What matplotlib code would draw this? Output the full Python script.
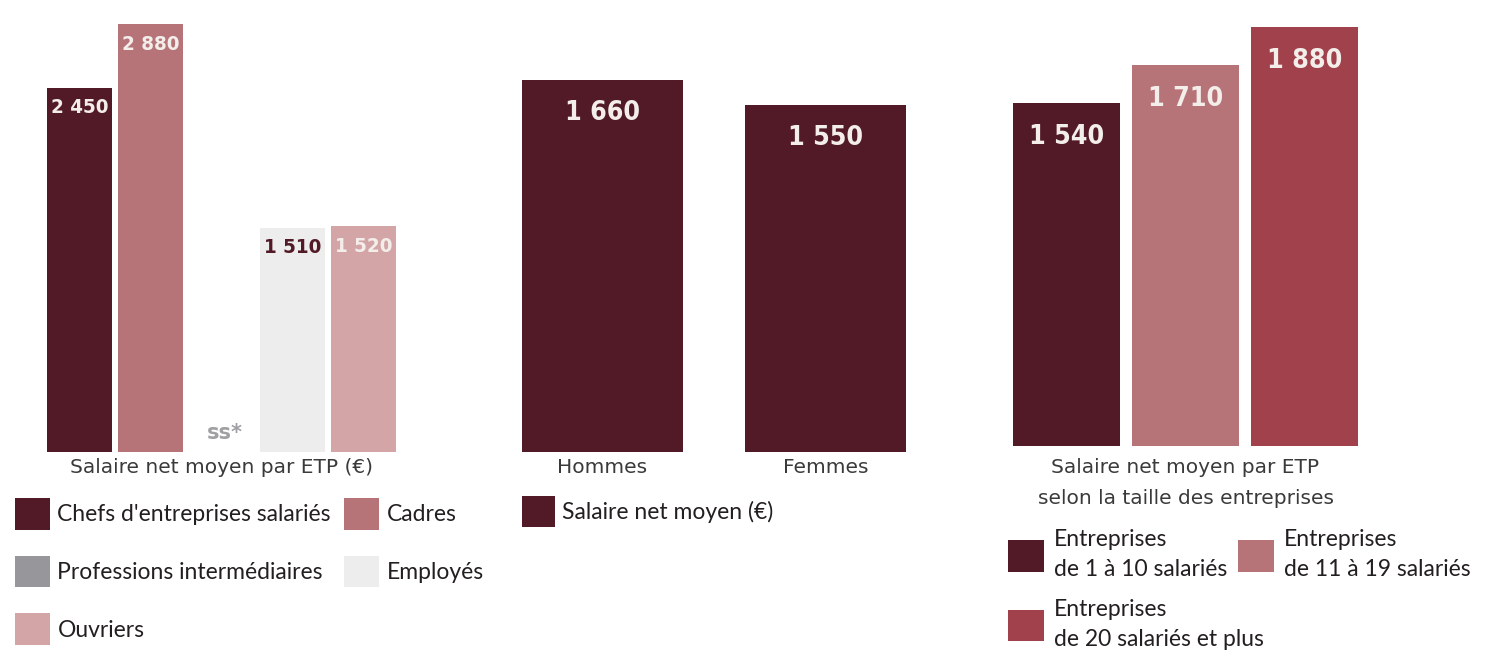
import matplotlib
matplotlib.use("Agg")
import matplotlib.pyplot as plt
from matplotlib.patches import Patch
from matplotlib import font_manager as fm
from matplotlib.textpath import TextToPath
import numpy as np

# ---------------- data ----------------
csp_labels = ["Chefs d'entreprises salariés", "Cadres", "Professions intermédiaires",
              "Employés", "Ouvriers"]
csp_values = [2450, 2880, None, 1510, 1520]
csp_axis_label = "Salaire net moyen par ETP (€)"

sexe_labels = ["Hommes", "Femmes"]
sexe_values = [1660, 1550]
sexe_legend = "Salaire net moyen (€)"

taille_labels = ["Entreprises\nde 1 à 10 salariés", "Entreprises\nde 11 à 19 salariés",
                 "Entreprises\nde 20 salariés et plus"]
taille_values = [1540, 1710, 1880]
taille_axis_label = "Salaire net moyen par ETP\nselon la taille des entreprises"

missing_text = "ss*"

# ---------------- style ----------------
DARK = "#521a27"
CADRES = "#b67479"
PROF = "#97979b"
EMPL = "#ededed"
OUVR = "#d4a5a7"
RED = "#a0414c"
csp_colors = [DARK, CADRES, PROF, EMPL, OUVR]
csp_text_colors = ["#f3eeea", "#f3eeea", "#a0a0a4", DARK, "#f3eeea"]
taille_colors = [DARK, CADRES, RED]


def find_condensed_bold():
    def stretch_rank(f):
        st = f.stretch
        name = f.name.lower()
        if isinstance(st, str):
            st = st.lower()
            if st == "extra-condensed":
                return 0
            if st == "condensed":
                return 1
            if st == "semi-condensed":
                return 3
            if st == "ultra-condensed":
                return 4
        elif isinstance(st, (int, float)):
            if st == 200:
                return 0
            if st == 300:
                return 1
            if st < 200:
                return 4
        if "narrow" in name:
            return 2
        if "condensed" in name:
            if "extra" in name:
                return 0
            if "semi" in name:
                return 3
            return 1
        return None

    best = None
    for f in fm.fontManager.ttflist:
        r = stretch_rank(f)
        if r is None:
            continue
        w = f.weight
        if isinstance(w, str):
            w = {"bold": 700, "semibold": 600, "demibold": 600, "heavy": 800,
                 "black": 900, "extra bold": 800}.get(w.lower(), 400)
        if w < 600:
            continue
        key = (r, abs(w - 700))
        if best is None or key < best[0]:
            best = (key, f.fname)
    return best[1] if best else None


cond_file = find_condensed_bold()
_ttp = TextToPath()


def fit_fp(sample, width_px, cap_px):
    """Font properties of a bold condensed face sized to the reference label box."""
    if cond_file:
        fp = fm.FontProperties(fname=cond_file, size=10)
    else:
        fp = fm.FontProperties(family="Roboto", weight="bold", size=10)
    w, h, d = _ttp.get_text_width_height_descent(sample, fp, ismath=False)
    s_w = 10 * (width_px * 0.72) / w
    s_h = 10 * (cap_px * 0.72) / (h - d)
    fp.set_size((s_w ** 0.4) * (s_h ** 0.6))
    return fp


VAL_FP_SMALL = fit_fp("2 450", 48, 17)
VAL_FP_BIG = fit_fp("1 660", 60, 23)

W, H = 1488, 667
fig = plt.figure(figsize=(W / 100, H / 100), dpi=100)
fig.patch.set_facecolor("white")

LEG_FONT = ["Lato", "DejaVu Sans"]
AX_FONT = ["DejaVu Sans"]
AX_SIZE = 14.5
AX_COLOR = "#3a3a3a"
PT = 72 / 100  # points per pixel


def add_axes_px(left, right, top, bottom):
    return fig.add_axes([left / W, 1 - bottom / H, (right - left) / W, (bottom - top) / H])


def clean(ax):
    for s in ax.spines.values():
        s.set_visible(False)
    ax.set_yticks([])
    ax.tick_params(axis="x", length=0)
    ax.set_facecolor("none")


def px_legend(handles, labels, x, y, **kw):
    return fig.legend(handles, labels, loc="upper left",
                      bbox_to_anchor=(x / W, 1 - y / H), frameon=False,
                      borderpad=0, borderaxespad=0,
                      prop={"family": LEG_FONT, "size": 16.5},
                      labelcolor="#231f20", **kw)


def value_label(ax, x, v, off_px, fp, color):
    ax.annotate(f"{v:,}".replace(",", " "), (x, v), xytext=(0, -off_px * PT),
                textcoords="offset points", ha="center", va="center",
                color=color, fontproperties=fp)


# ---------------- panel 1 : CSP ----------------
ax1 = add_axes_px(44, 399, 20, 452)
clean(ax1)
x1 = np.arange(len(csp_values))
h1 = [v if v is not None else 0 for v in csp_values]
ax1.bar(x1, h1, width=0.915, color=csp_colors)
ax1.set_xlim(-0.5, len(csp_values) - 0.5)
ax1.set_ylim(0, 2907)
for xi, v, tc in zip(x1, csp_values, csp_text_colors):
    if v is None:
        ax1.annotate(missing_text, (xi, 0), xytext=(3 * PT, 13 * PT), textcoords="offset points",
                     ha="center", va="baseline", color=tc, fontsize=15,
                     fontweight="bold", family=["DejaVu Sans"])
    else:
        value_label(ax1, xi, v, 20, VAL_FP_SMALL, tc)
ax1.set_xticks([2], [csp_axis_label], family=AX_FONT, fontsize=AX_SIZE, color=AX_COLOR)
ax1.tick_params(axis="x", pad=4.4)

csp_handles = [Patch(facecolor=c, edgecolor="none") for c in csp_colors]
legkw = dict(handlelength=1.53, handleheight=1.74, handletextpad=0.32, labelspacing=1.14)
px_legend([csp_handles[i] for i in (0, 2, 4)], [csp_labels[i] for i in (0, 2, 4)],
          15, 498, **legkw)
px_legend([csp_handles[i] for i in (1, 3)], [csp_labels[i] for i in (1, 3)],
          344, 498, **legkw)

# ---------------- panel 2 : sexe ----------------
ax2 = add_axes_px(491, 937, 20, 452)
clean(ax2)
x2 = np.arange(len(sexe_values))
ax2.bar(x2, sexe_values, width=0.722, color=DARK)
ax2.set_xlim(-0.5, len(sexe_values) - 0.5)
ax2.set_ylim(0, 1928)
for xi, v in zip(x2, sexe_values):
    value_label(ax2, xi, v, 33, VAL_FP_BIG, "#f3eeea")
ax2.set_xticks(x2, sexe_labels, family=AX_FONT, fontsize=AX_SIZE, color=AX_COLOR)
ax2.tick_params(axis="x", pad=4.4)
px_legend([Patch(facecolor=DARK, edgecolor="none")], [sexe_legend], 522, 496,
          handlelength=1.45, handleheight=1.7, handletextpad=0.3)

# ---------------- panel 3 : taille ----------------
ax3 = add_axes_px(1007, 1364, 20, 446)
clean(ax3)
x3 = np.arange(len(taille_values))
ax3.bar(x3, taille_values, width=0.9, color=taille_colors)
ax3.set_xlim(-0.5, len(taille_values) - 0.5)
ax3.set_ylim(0, 1911)
for xi, v in zip(x3, taille_values):
    value_label(ax3, xi, v, 34, VAL_FP_BIG, "#f3eeea")
ax3.set_xticks([1], [taille_axis_label], family=AX_FONT, fontsize=AX_SIZE, color=AX_COLOR,
               linespacing=1.8)
ax3.tick_params(axis="x", pad=8.8)

t_handles = [Patch(facecolor=c, edgecolor="none") for c in taille_colors]
legkw3 = dict(handlelength=1.57, handleheight=1.74, handletextpad=0.45, labelspacing=0.81)
l3a = px_legend([t_handles[0], t_handles[2]], [taille_labels[0], taille_labels[2]],
                1008, 529, **legkw3)
l3b = px_legend([t_handles[1]], [taille_labels[1]], 1238, 529, **legkw3)
for lg_ in (l3a, l3b):
    for t in lg_.get_texts():
        t.set_linespacing(1.55)

fig.savefig("out.png", dpi=100, facecolor="white")
